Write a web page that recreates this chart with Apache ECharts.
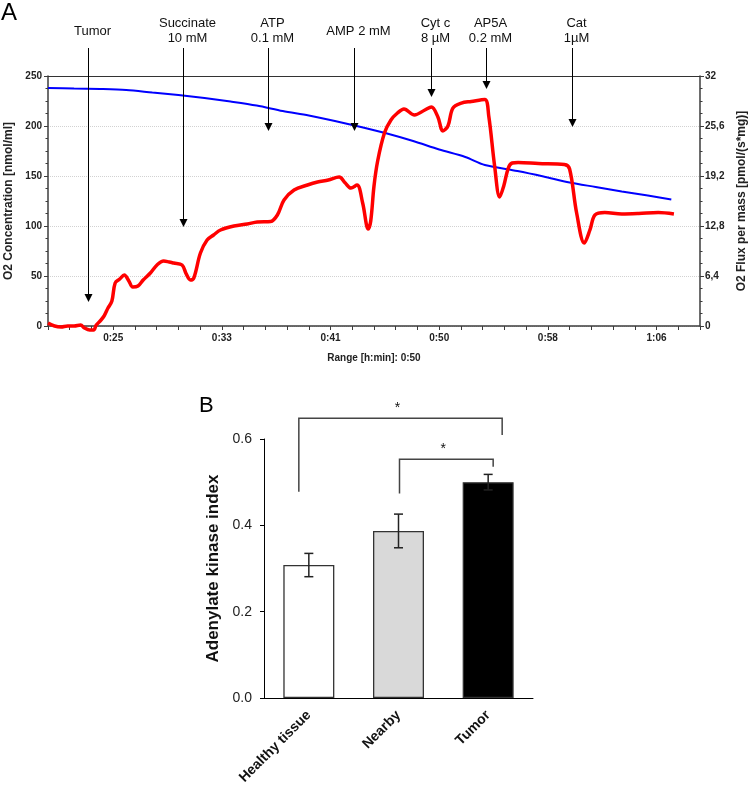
<!DOCTYPE html>
<html>
<head>
<meta charset="utf-8">
<script src="https://cdn.jsdelivr.net/npm/echarts@6/dist/echarts.min.js"></script>
<style>
  html, body { margin: 0; padding: 0; background: #fff; }
  #chart { width: 750px; height: 789px; }
</style>
</head>
<body>
<div id="chart"></div>
<script>
// ---- panel A: oxygraph trace (time in minutes) ----
const o2Time = [20, 22, 24, 26, 28, 30, 32, 34, 36, 38, 40, 42, 44, 46, 48, 50, 52, 53.5, 56, 58, 60, 62, 64, 66, 67.8];
const o2Conc = [238, 237.5, 237, 236, 233.5, 231, 228, 224.5, 220.5, 215, 210.5, 205, 199, 192.5, 185, 176.5, 169, 161, 155, 149.5, 143.5, 139, 134.5, 130.5, 126.5];

const fluxTime = [20.0, 20.5, 21.0, 21.5, 22.0, 22.5, 22.8, 23.2, 23.5, 23.7, 24.0, 24.3, 24.6, 24.9, 25.15, 25.5, 25.85, 26.2, 26.5, 26.9,
  27.3, 27.85, 28.36, 28.87, 29.3, 29.64, 30.28, 30.6, 30.92, 31.18, 31.69, 32.2, 32.7, 33.23, 34.26, 35.28, 36.05, 37.08, 37.59, 38.1,
  38.87, 39.9, 40.67, 41.5, 42.33, 42.8, 43.23, 43.7, 44.13, 44.56, 44.75, 45.0, 45.28, 45.8, 46.3, 46.8, 47.3, 48.1, 48.9, 49.4,
  49.9, 50.28, 50.67, 51.05, 51.7, 52.46, 53.49, 53.8, 54.25, 54.64, 54.95, 55.3, 55.6, 56.05, 57.6, 59.6, 60.0, 60.54, 61.13, 61.56,
  61.95, 62.7, 64.0, 65.3, 66.8, 68.0];
const fluxValue = [0.38, 0, -0.13, 0, 0, 0.13, -0.26, -0.51, -0.51, 0.13, 0.64, 1.28, 2.30, 3.20, 5.50, 6.02, 6.53, 5.76, 4.99, 5.12,
  5.89, 6.78, 7.81, 8.32, 8.19, 8.06, 7.81, 6.66, 5.89, 6.14, 9.34, 11.01, 11.65, 12.29, 12.80, 13.06, 13.31, 13.38, 14.21, 16.13,
  17.41, 18.05, 18.43, 18.69, 19.07, 18.30, 17.66, 18.05, 15.74, 12.42, 13.44, 17.92, 21.12, 24.70, 26.37, 27.26, 27.78, 27.01, 27.65, 28.03,
  26.75, 24.96, 25.60, 27.90, 28.54, 28.74, 28.99, 26.88, 20.48, 16.51, 17.92, 20.22, 20.86, 20.93, 20.80, 20.67, 20.10, 14.46, 10.62, 12.29,
  14.21, 14.53, 14.34, 14.40, 14.53, 14.34];

// additions: time (min), arrow tip on the nmol/ml scale, label
const addTime = [23.1, 30.35, 36.9, 43.45, 49.35, 53.62, 60.15];
const addLevel = [24, 99, 195, 195, 229, 237, 199];
const addLabel = ['Tumor', 'Succinate\n10 mM', 'ATP\n0.1 mM', 'AMP 2 mM', 'Cyt c\n8 µM', 'AP5A\n0.2 mM', 'Cat\n1µM'];

// ---- panel B: adenylate kinase index ----
const tissue = ['Healthy tissue', 'Nearby', 'Tumor'];
const akIndex = [0.308, 0.387, 0.5];
const akErr = [0.027, 0.039, 0.018];
// [from, to, top, left foot, right foot]
const sigPairs = [[0, 2, 0.648, 0.478, 0.609], [1, 2, 0.553, 0.474, 0.536]];

const barFill = ['#ffffff', '#d9d9d9', '#000000'];
const bracketNudge = [[-10, 14], [1, 5]];
const axisGrey = '#3c3c3c';

function clock(sec) {
  const m = Math.floor(sec / 60 + 1e-6);
  return Math.floor(m / 60) + ':' + String(m % 60).padStart(2, '0');
}

function drawArrow(params, api) {
  const p = api.coord([api.value(0), api.value(1)]);
  const top = params.coordSys.y - 28;
  const x = Math.round(p[0]) + 0.5;
  return {
    type: 'group',
    children: [
      { type: 'line', shape: { x1: x, y1: top, x2: x, y2: p[1] - 7 }, style: { stroke: '#000', lineWidth: 1 } },
      { type: 'polygon', shape: { points: [[x - 4, p[1] - 8], [x + 4, p[1] - 8], [x, p[1]]] }, style: { fill: '#000' } },
      {
        type: 'text', x: x + 4, y: top - 17,
        style: {
          text: addLabel[params.dataIndex], font: '13px "Liberation Sans", Arial, sans-serif',
          fill: '#111', align: 'center', verticalAlign: 'middle', lineHeight: 15
        }
      }
    ]
  };
}

function drawErr(params, api) {
  const i = api.value(0);
  const lo = api.coord([i, api.value(1)]);
  const hi = api.coord([i, api.value(2)]);
  const x = lo[0], c = 4.5;
  const st = { stroke: '#222', lineWidth: 1.5 };
  return {
    type: 'group',
    children: [
      { type: 'line', shape: { x1: x, y1: lo[1], x2: x, y2: hi[1] }, style: st },
      { type: 'line', shape: { x1: x - c, y1: lo[1], x2: x + c, y2: lo[1] }, style: st },
      { type: 'line', shape: { x1: x - c, y1: hi[1], x2: x + c, y2: hi[1] }, style: st }
    ]
  };
}

function drawBracket(params, api) {
  const d = sigPairs[params.dataIndex];
  const n = bracketNudge[params.dataIndex];
  const a = api.coord([d[0], d[2]]);
  const b = api.coord([d[1], d[2]]);
  const x1 = a[0] + n[0], x2 = b[0] + n[1];
  const yL = api.coord([d[0], d[3]])[1];
  const yR = api.coord([d[1], d[4]])[1];
  return {
    type: 'group',
    children: [
      { type: 'polyline', shape: { points: [[x1, yL], [x1, a[1]], [x2, a[1]], [x2, yR]] }, style: { stroke: '#444', lineWidth: 1.5, fill: null } },
      {
        type: 'text', x: (x1 + x2) / 2 - 3, y: a[1] - 10,
        style: { text: '*', font: '14px "Liberation Sans", Arial, sans-serif', fill: '#111', align: 'center', verticalAlign: 'middle' }
      }
    ]
  };
}

const chart = echarts.init(document.getElementById('chart'));

const option = {
  animation: false,
  textStyle: { fontFamily: '"Liberation Sans", Arial, sans-serif' },
  graphic: [
    { type: 'text', left: 1, top: 1, style: { text: 'A', font: '24px "Liberation Sans", Arial, sans-serif', fill: '#000' } },
    { type: 'text', left: 199, top: 395, style: { text: 'B', font: '22px "Liberation Sans", Arial, sans-serif', fill: '#000' } }
  ],
  grid: [
    { left: 48, top: 76, width: 652, height: 250, containLabel: false, outerBoundsMode: 'none' },
    { left: 264, top: 439, width: 269, height: 259, containLabel: false, outerBoundsMode: 'none' }
  ],
  xAxis: [
    {
      type: 'value', gridIndex: 0, min: 1200, max: 4200, interval: 100,
      name: 'Range [h:min]: 0:50', nameLocation: 'middle', nameGap: 27,
      nameTextStyle: { fontSize: 10, fontWeight: 'bold', color: '#222' },
      axisLine: { lineStyle: { color: axisGrey, width: 1.5 } },
      axisTick: { length: 4, lineStyle: { color: axisGrey } },
      axisLabel: {
        fontSize: 10, fontWeight: 'bold', color: '#222', margin: 7,
        formatter: v => (v % 500 === 0 && v > 1200 && v < 4200) ? clock(v) : ''
      },
      splitLine: { show: false }
    },
    {
      type: 'category', gridIndex: 1, data: tissue,
      axisLine: { lineStyle: { color: '#000', width: 1 } },
      axisTick: { show: false },
      axisLabel: { rotate: 45, fontSize: 14, fontWeight: 'bold', color: '#111', margin: 15 }
    }
  ],
  yAxis: [
    {
      type: 'value', gridIndex: 0, min: 0, max: 250, interval: 50,
      name: 'O2 Concentration [nmol/ml]', nameLocation: 'middle', nameGap: 33, nameRotate: 90,
      nameTextStyle: { fontSize: 12, fontWeight: 'bold', color: '#222' },
      axisLine: { show: true, lineStyle: { color: axisGrey, width: 1.5 } },
      axisTick: { show: true, length: 4, lineStyle: { color: axisGrey } },
      minorTick: { show: true, splitNumber: 4, length: 2.5, lineStyle: { color: axisGrey } },
      axisLabel: { fontSize: 10, fontWeight: 'bold', color: '#222', margin: 6 },
      splitLine: { show: true, lineStyle: { color: '#d2d2d2', type: 'dotted', width: 1 } }
    },
    {
      type: 'value', gridIndex: 0, position: 'right', min: 0, max: 32, interval: 6.4,
      name: 'O2 Flux per mass [pmol/(s*mg)]', nameLocation: 'middle', nameGap: 34, nameRotate: 90,
      nameTextStyle: { fontSize: 12, fontWeight: 'bold', color: '#222' },
      axisLine: { show: true, lineStyle: { color: axisGrey, width: 1.5 } },
      axisTick: { show: true, length: 4, lineStyle: { color: axisGrey } },
      minorTick: { show: true, splitNumber: 4, length: 2.5, lineStyle: { color: axisGrey } },
      axisLabel: {
        fontSize: 10, fontWeight: 'bold', color: '#222', margin: 5,
        formatter: v => Math.abs(v - Math.round(v)) < 1e-6 ? String(Math.round(v)) : v.toFixed(1).replace('.', ',')
      },
      splitLine: { show: false }
    },
    {
      type: 'value', gridIndex: 1, min: 0, max: 0.6, interval: 0.2,
      name: 'Adenylate kinase index', nameLocation: 'middle', nameGap: 42, nameRotate: 90,
      nameTextStyle: { fontSize: 17, fontWeight: 'bold', color: '#111' },
      axisLine: { show: true, lineStyle: { color: '#000', width: 1 } },
      axisTick: { show: true, length: 4, lineStyle: { color: '#000' } },
      axisLabel: { fontSize: 14, color: '#222', margin: 12, formatter: v => v.toFixed(1) },
      splitLine: { show: false }
    }
  ],
  series: [
    {
      name: 'O2 concentration', type: 'line', xAxisIndex: 0, yAxisIndex: 0,
      data: o2Time.map((t, i) => [t * 60, o2Conc[i]]),
      showSymbol: false, smooth: 0.3,
      lineStyle: { color: '#0000ff', width: 2 },
      // solid frame line along the top of panel A
      markLine: {
        silent: true, symbol: 'none', label: { show: false },
        lineStyle: { color: '#333', type: 'solid', width: 1.2 },
        data: [{ yAxis: 250 }]
      }
    },
    {
      name: 'O2 flux', type: 'line', xAxisIndex: 0, yAxisIndex: 1,
      data: fluxTime.map((t, i) => [t * 60, fluxValue[i]]),
      showSymbol: false, smooth: 0.35, clip: false,
      lineStyle: { color: '#ff0000', width: 3.5 }
    },
    {
      name: 'additions', type: 'custom', xAxisIndex: 0, yAxisIndex: 0,
      data: addTime.map((t, i) => [t * 60, addLevel[i]]),
      renderItem: drawArrow, z: 5, silent: true
    },
    {
      name: 'AK index', type: 'bar', xAxisIndex: 1, yAxisIndex: 2, barWidth: 51,
      data: akIndex.map((v, i) => ({ value: v, itemStyle: { color: barFill[i] } })),
      itemStyle: { borderColor: '#333', borderWidth: 1.3 }
    },
    {
      name: 'SE', type: 'custom', xAxisIndex: 1, yAxisIndex: 2,
      data: akIndex.map((v, i) => [i, v - akErr[i], v + akErr[i]]),
      encode: { x: 0, y: [1, 2] },
      renderItem: drawErr, z: 4, silent: true
    },
    {
      name: 'significance', type: 'custom', xAxisIndex: 1, yAxisIndex: 2,
      data: sigPairs.map(d => [d[0], d[2]]),
      renderItem: drawBracket, z: 4, silent: true
    }
  ]
};

chart.setOption(option);
</script>
</body>
</html>
